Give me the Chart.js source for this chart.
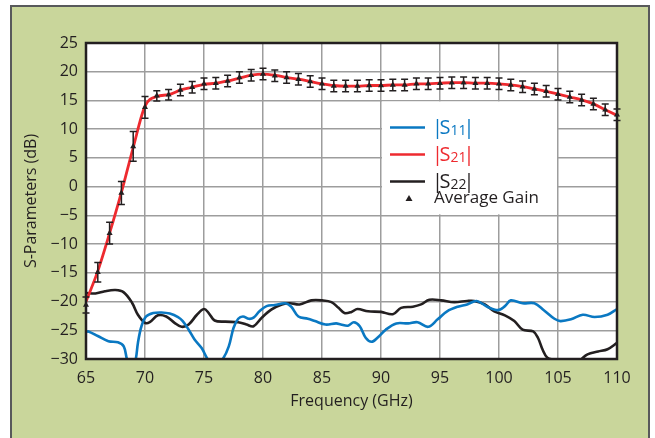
<!DOCTYPE html>
<html><head><meta charset="utf-8">
<script src="https://cdn.jsdelivr.net/npm/chart.js@4.4.0/dist/chart.umd.min.js"></script>
<style>html,body{margin:0;padding:0;background:#fff;overflow:hidden}
canvas{display:block}</style></head>
<body><canvas id="c" width="655" height="438"></canvas>
<script>
// ---------- data ----------
const gainFreq = [65,66,67,68,69,70,71,72,73,74,75,76,77,78,79,80,81,82,83,84,85,86,87,88,89,90,91,92,93,94,95,96,97,98,99,100,101,102,103,104,105,106,107,108,109,110];
const avgGain  = [-20.6,-14.9,-8.1,-1.1,7.0,13.8,15.8,16.0,16.8,17.3,17.9,18.0,18.4,19.0,19.4,19.6,19.3,19.0,18.7,18.3,17.9,17.5,17.5,17.5,17.6,17.6,17.7,17.7,17.9,17.9,18.0,18.1,18.1,18.0,18.0,17.9,17.7,17.4,17.0,16.6,16.1,15.6,15.1,14.4,13.4,12.5];
const gainErr  = [1.4,1.7,1.9,2.0,2.6,1.9,0.9,0.9,1.0,1.0,1.0,1.0,1.0,1.0,1.0,1.0,1.0,1.0,1.0,1.0,1.0,1.0,1.0,1.0,1.0,1.0,1.0,1.0,1.0,1.0,1.0,1.0,1.0,1.0,1.0,1.0,1.0,1.0,1.0,1.0,1.0,1.0,1.0,1.0,1.0,1.0];

const s21Freq = [65,66,67,68,69,70,71,72,73,74,75,76,77,78,79,80,81,82,83,84,85,86,87,88,89,90,91,92,93,94,95,96,97,98,99,100,101,102,103,104,105,106,107,108,109,110];
const s21     = [-20.0,-14.7,-8.1,-1.0,6.8,14.0,15.7,16.0,16.8,17.3,17.8,18.0,18.4,18.9,19.4,19.6,19.4,19.0,18.7,18.3,17.9,17.6,17.5,17.5,17.6,17.6,17.7,17.7,17.9,17.9,18.0,18.1,18.1,18.0,18.0,17.9,17.7,17.4,17.0,16.6,16.1,15.6,15.1,14.4,13.4,12.4];

const s11Freq = [65,65.2,66,66.9,67.7,68.2,68.5,68.9,69.2,69.4,69.7,70.1,70.7,71.4,72.1,72.8,73.2,73.7,74.2,74.8,75.3,75.9,76.6,77.1,77.5,77.9,78.3,78.8,79.2,79.7,80.3,81,81.9,82.4,83,83.8,84.4,85.3,86.2,86.6,87.2,87.7,88.2,88.7,89.2,89.7,90.4,91.3,92.3,93.1,94,94.8,95.6,96.5,97.3,98.1,99,99.9,100.5,101,102,103,103.8,104.7,105.2,106.1,107.1,108.1,109.2,110];
const s11     = [-25.3,-25.2,-26.0,-26.9,-27.1,-27.8,-30.2,-31.5,-30.2,-27.2,-24.3,-22.6,-22.0,-21.9,-22.1,-22.7,-23.4,-24.9,-26.6,-28.1,-30.0,-31.5,-30.0,-27.8,-24.6,-23.0,-22.6,-23.0,-22.8,-21.7,-20.8,-20.6,-20.3,-20.9,-22.6,-23.0,-23.4,-24.0,-23.8,-24.0,-24.2,-23.6,-24.3,-26.3,-27.0,-26.3,-24.9,-23.8,-23.8,-23.6,-24.4,-23.1,-21.7,-20.9,-20.5,-19.9,-20.9,-21.5,-20.8,-19.8,-20.3,-20.3,-21.5,-23.0,-23.4,-23.1,-22.3,-22.7,-22.3,-21.3];

const s22Freq = [65,65.8,66.6,67.5,68.2,68.9,69.4,70,70.4,71.1,71.8,72.5,73.1,73.7,74.4,75,75.4,75.9,76.8,77.9,78.6,79.2,79.9,80.7,81.6,82.3,83.1,84.1,85,85.8,86.4,86.9,87.5,88,88.9,90,91,91.7,92.7,93.4,94.1,95.1,96.2,97.3,97.9,98.8,99.6,100.5,101.3,102,102.9,103.3,103.7,104.1,104.7,105.5,106.5,107,107.5,108.4,109.2,110];
const s22     = [-18.5,-18.6,-18.2,-18.0,-18.4,-20.2,-22.3,-23.7,-23.6,-22.4,-22.6,-23.7,-24.4,-24.0,-22.3,-21.3,-22.0,-23.3,-23.5,-23.6,-24.0,-24.3,-22.8,-21.4,-20.5,-20.3,-20.5,-19.8,-19.8,-20.1,-21.1,-22.0,-21.8,-21.3,-21.7,-21.8,-22.2,-21.1,-20.9,-20.5,-19.7,-19.8,-20.1,-19.9,-19.9,-20.5,-21.7,-22.4,-23.4,-24.9,-25.2,-26.3,-28.4,-29.8,-30.2,-31.0,-31.0,-30.0,-29.2,-28.7,-28.3,-27.2];

const xTicks = [65,70,75,80,85,90,95,100,105,110];
const yTicks = [-30,-25,-20,-15,-10,-5,0,5,10,15,20,25];

const legendLabels = [
  {main:'S', sub:'11', color:'#0a78c2'},
  {main:'S', sub:'21', color:'#ee2a2f'},
  {main:'S', sub:'22', color:'#231f20'}
];
const legendMarkerLabel = 'Average Gain';

// ---------- styles ----------
const TXT = '#231f20';
const FONT = "'Open Sans', sans-serif";
Chart.defaults.font.family = FONT;
Chart.defaults.color = TXT;

const pts = (xs, ys) => xs.map((x, i) => ({x, y: ys[i]}));

const bgPlugin = {
  id: 'bg',
  beforeDraw(chart) {
    const ctx = chart.ctx;
    ctx.save();
    ctx.fillStyle = '#fff';
    ctx.fillRect(0, 0, chart.width, chart.height);
    ctx.fillStyle = '#c9d69b';
    ctx.fillRect(11, 6, 638, chart.height);
    ctx.strokeStyle = '#58595b';
    ctx.lineWidth = 2;
    ctx.beginPath();
    ctx.moveTo(11, chart.height + 5); ctx.lineTo(11, 6); ctx.lineTo(649, 6); ctx.lineTo(649, chart.height + 5);
    ctx.stroke();
    const a = chart.chartArea;
    ctx.fillStyle = '#fff';
    ctx.fillRect(a.left, a.top, a.right - a.left, a.bottom - a.top);
    ctx.restore();
  },
  beforeDatasetsDraw(chart) {
    const {ctx, scales: {x, y}} = chart;
    const l = x.getPixelForValue(90) + 1, r = x.getPixelForValue(105) - 1;
    const t = y.getPixelForValue(15) + 1, b = y.getPixelForValue(-5) - 1;
    ctx.save();
    ctx.fillStyle = '#fff';
    ctx.fillRect(l, t, r - l, b - t);
    ctx.restore();
  },
  beforeDatasetDraw(chart, args) {
    if (args.index !== 3) return;
    const {ctx, scales: {x, y}} = chart;
    ctx.save();
    ctx.strokeStyle = TXT;
    ctx.lineWidth = 1.5;
    gainFreq.forEach((f, i) => {
      const px = x.getPixelForValue(f);
      const y1 = y.getPixelForValue(avgGain[i] + gainErr[i]);
      const y2 = y.getPixelForValue(avgGain[i] - gainErr[i]);
      ctx.beginPath();
      ctx.moveTo(px, y1); ctx.lineTo(px, y2);
      ctx.moveTo(px - 3.5, y1); ctx.lineTo(px + 3.5, y1);
      ctx.moveTo(px - 3.5, y2); ctx.lineTo(px + 3.5, y2);
      ctx.stroke();
    });
    ctx.restore();
  },
  afterDatasetsDraw(chart) {
    const {ctx, chartArea: a, scales: {x, y}} = chart;
    ctx.save();
    ctx.strokeStyle = TXT;
    ctx.lineWidth = 2.5;
    ctx.strokeRect(a.left, a.top, a.right - a.left, a.bottom - a.top);
    // legend
    const l = x.getPixelForValue(90), t = y.getPixelForValue(15);
    const rows = [27, 54, 81];
    legendLabels.forEach((lab, i) => {
      const cy = t + rows[i];
      ctx.strokeStyle = lab.color;
      ctx.lineWidth = 2.5;
      ctx.beginPath(); ctx.moveTo(l + 9, cy); ctx.lineTo(l + 44, cy); ctx.stroke();
      ctx.fillStyle = lab.color;
      ctx.textBaseline = 'alphabetic';
      let tx = l + 51;
      const base = cy + 7;
      ctx.font = `20px ${FONT}`;
      ctx.fillText('|', tx, base); tx += ctx.measureText('|').width - 3.5;
      ctx.fillText(lab.main, tx, base); tx += ctx.measureText(lab.main).width;
      ctx.font = `14px ${FONT}`;
      ctx.fillText(lab.sub, tx, base + 1); tx += ctx.measureText(lab.sub).width - 3;
      ctx.font = `20px ${FONT}`;
      ctx.fillText('|', tx, base);
    });
    const my = t + 98;
    ctx.fillStyle = TXT;
    ctx.beginPath();
    ctx.moveTo(l + 28, my - 3.5); ctx.lineTo(l + 31.5, my + 2.5); ctx.lineTo(l + 24.5, my + 2.5); ctx.closePath(); ctx.fill();
    ctx.font = `17px ${FONT}`;
    ctx.textBaseline = 'middle';
    ctx.fillText(legendMarkerLabel, l + 53, my);
    ctx.restore();
  }
};

new Chart(document.getElementById('c'), {
  type: 'line',
  data: {
    datasets: [
      {label:'|S22|', data: pts(s22Freq, s22), borderColor:'#231f20', borderWidth:2.6, pointRadius:0, tension:0.35, clip:0, order:4},
      {label:'|S11|', data: pts(s11Freq, s11), borderColor:'#0a78c2', borderWidth:2.6, pointRadius:0, tension:0.35, clip:0, order:3},
      {label:'|S21|', data: pts(s21Freq, s21), borderColor:'#ee2a2f', borderWidth:2.8, pointRadius:0, cubicInterpolationMode:'monotone', clip:0, order:2},
      {label:'Average Gain', data: pts(gainFreq, avgGain), showLine:false, pointStyle:'triangle', pointRadius:3.5, pointBackgroundColor:TXT, pointBorderColor:TXT, pointBorderWidth:0, clip:false, order:1}
    ]
  },
  options: {
    responsive: false,
    animation: false,
    events: [],
    layout: {padding: {left: 0, top: 43, right: 38, bottom: 0}},
    plugins: {legend: {display: false}, tooltip: {enabled: false}},
    scales: {
      x: {
        type: 'linear', min: 65, max: 110,
        afterBuildTicks: s => { s.ticks = xTicks.map(v => ({value: v})); },
        ticks: {padding: 10, color: TXT, font: {size: 16}, maxRotation: 0, autoSkip: false},
        grid: {color: '#9d9d9d', lineWidth: 1.5, drawTicks: false},
        border: {display: false},
        title: {display: true, text: 'Frequency (GHz)', color: TXT, font: {size: 16}, padding: {top: 0, bottom: 27}},
        afterFit: s => { s.height = 79; }
      },
      y: {
        type: 'linear', min: -30, max: 25,
        afterBuildTicks: s => { s.ticks = yTicks.map(v => ({value: v})); },
        ticks: {padding: 8, color: TXT, font: {size: 16}, autoSkip: false,
                callback: v => String(v).replace('-', '\u2212')},
        grid: {color: '#9d9d9d', lineWidth: 1.5, drawTicks: false},
        border: {display: false},
        title: {display: true, text: 'S-Parameters (dB)', color: TXT, font: {size: 16}, padding: {top: 22, bottom: 0}},
        afterFit: s => { s.width = 86; }
      }
    }
  },
  plugins: [bgPlugin]
});
</script></body></html>
